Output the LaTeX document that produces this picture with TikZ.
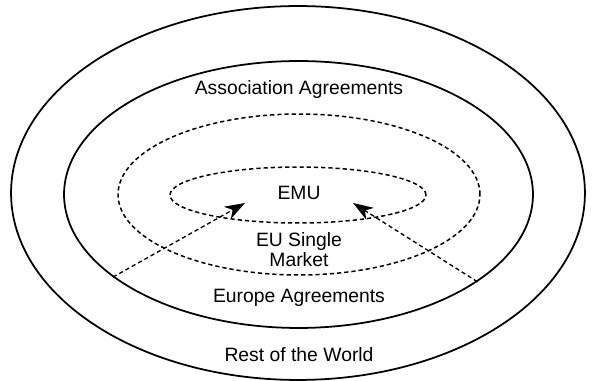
\documentclass[tikz,border=0pt]{standalone}
\usepackage{fontspec}
\setmainfont{Liberation Sans}
\usetikzlibrary{shapes.geometric,arrows.meta}
\tikzset{
    ring/.style={ellipse, draw, inner sep=0pt, line width=1pt},
    dashring/.style={ring, line width=0.85pt, dash pattern=on 2.4pt off 1.7pt},
    label/.style={font=\fontsize{11}{11.3}\selectfont, align=center, inner sep=0pt},
    push/.style={line width=0.75pt, dash pattern=on 2.4pt off 1.7pt,
        -{Stealth[length=11.5pt,width=8pt,inset=3.5pt]}}
}
\begin{document}
\begin{tikzpicture}[x=0.02cm, y=-0.02cm]
    \useasboundingbox (0,0) rectangle (593,381);
    \node[ring, minimum width=11.48cm, minimum height=7.48cm] (world) at (298,193) {};
    \node[ring, minimum width=9.38cm, minimum height=5.34cm] (assoc) at (298.5,194.5) {};
    \node[dashring, minimum width=7.24cm, minimum height=3.22cm] (single) at (299,194.5) {};
    \node[dashring, minimum width=5.12cm, minimum height=1.12cm] (emu) at (298,195) {};
    \node[label] (assoctext) at (299,90) {Association Agreements};
    \node[label] (emutext) at (299,193) {EMU};
    \node[label] (singletext) at (299,250) {EU Single\\Market};
    \node[label] (europetext) at (299,298) {Europe Agreements};
    \node[label] (worldtext) at (299,355) {Rest of the World};
    \coordinate (tipL) at (245,203);
    \coordinate (tipR) at (353,203);
    \draw[push] (assoc.204.7) -- (tipL);
    \draw[push] (assoc.334.3) -- (tipR);
\end{tikzpicture}
\end{document}
